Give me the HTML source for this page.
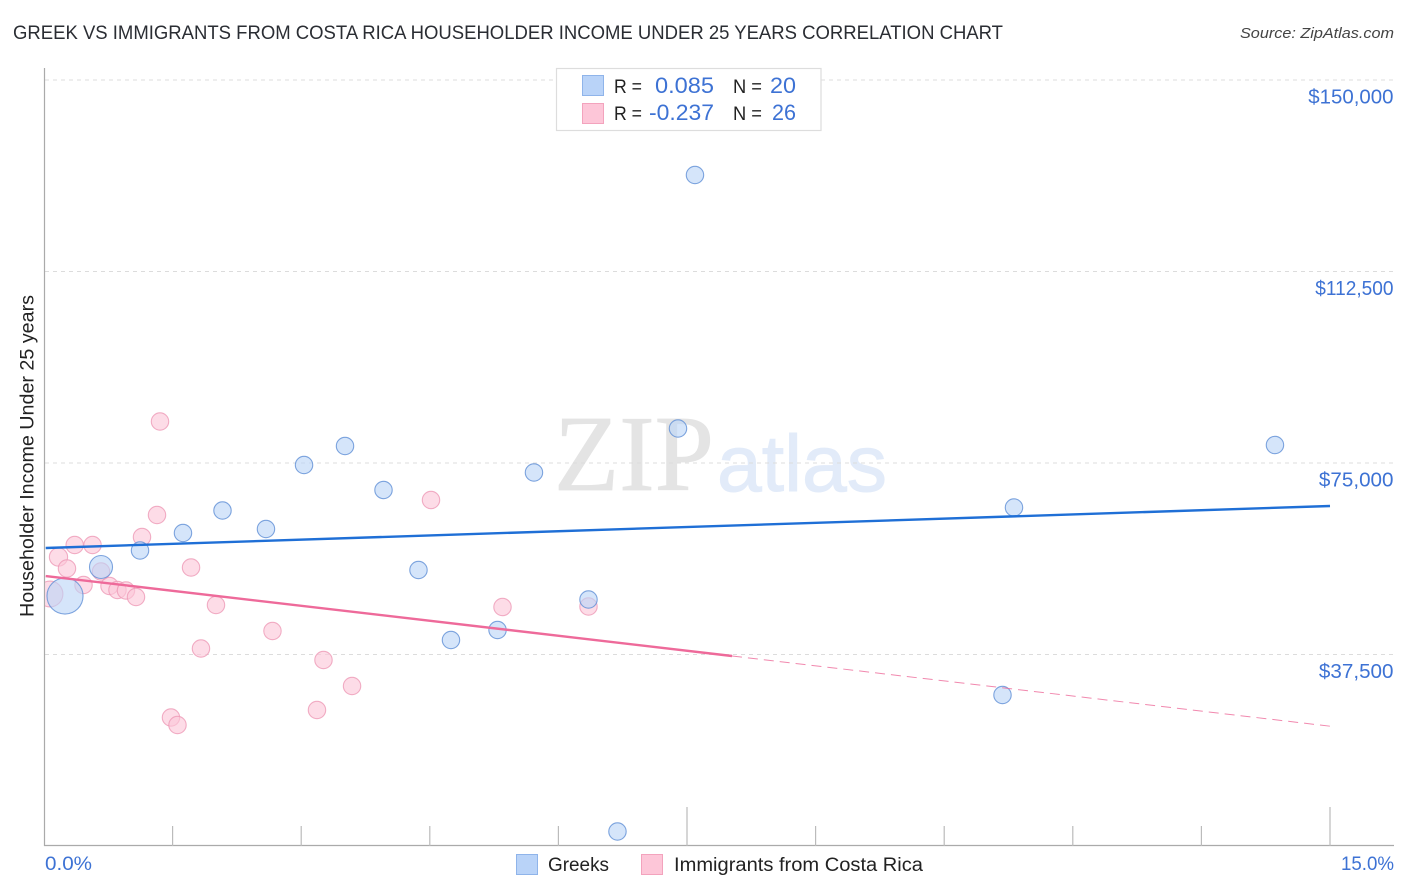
<!DOCTYPE html>
<html lang="en">
<head>
<meta charset="utf-8">
<title>Greek vs Immigrants from Costa Rica Householder Income Under 25 Years Correlation Chart</title>
<style>
html,body{margin:0;padding:0;background:#fff;width:1406px;height:892px;overflow:hidden}
svg{display:block;font-family:"Liberation Sans",sans-serif}
.blue{fill:#3d72d4}
.dark{fill:#222}
</style>
</head>
<body>
<svg id="chart" width="1406" height="892" viewBox="0 0 1406 892" xmlns="http://www.w3.org/2000/svg">
<defs><clipPath id="plot-clip"><rect x="45" y="60" width="1349" height="785"/></clipPath></defs>
<text x="13" y="39" font-size="19.5" fill="#2a2d33" textLength="990" lengthAdjust="spacingAndGlyphs">GREEK VS IMMIGRANTS FROM COSTA RICA HOUSEHOLDER INCOME UNDER 25 YEARS CORRELATION CHART</text>
<text x="1394" y="38" font-size="15" font-style="italic" fill="#444" text-anchor="end" textLength="154" lengthAdjust="spacingAndGlyphs">Source: ZipAtlas.com</text>
<g>
<text x="554" y="490" font-family="'Liberation Serif',serif" font-size="108" fill="#e4e4e4" stroke="#e4e4e4" stroke-width="0.8" textLength="160" lengthAdjust="spacingAndGlyphs">ZIP</text>
<text x="717" y="491" font-size="80" fill="#e2ebf9" stroke="#e2ebf9" stroke-width="1" textLength="170" lengthAdjust="spacingAndGlyphs">atlas</text>
</g>
<g id="grid"></g>
<g id="axes">
<line x1="44.5" y1="68" x2="44.5" y2="846" stroke="#aaa" stroke-width="1.2"/>
<line x1="44" y1="845.5" x2="1394" y2="845.5" stroke="#aaa" stroke-width="1.2"/>
</g>
<g id="x-ticks"></g>
<g id="y-labels"></g>
<g id="points-pink" clip-path="url(#plot-clip)"></g>
<g id="points-blue" clip-path="url(#plot-clip)"></g>
<g id="trends"></g>
<text transform="translate(33.5,456) rotate(-90)" font-size="19" fill="#222" text-anchor="middle" textLength="322" lengthAdjust="spacingAndGlyphs">Householder Income Under 25 years</text>
<text class="blue" x="45" y="870" font-size="19" textLength="47" lengthAdjust="spacingAndGlyphs">0.0%</text>
<text class="blue" x="1394" y="870" font-size="19" text-anchor="end" textLength="53" lengthAdjust="spacingAndGlyphs">15.0%</text>
<g>
<rect x="556.5" y="68.5" width="264.5" height="62" fill="#fff" stroke="#ddd" stroke-width="1.2"/>
<rect x="582.5" y="75.5" width="21" height="20" fill="#b9d3f8" stroke="#8fb4ea"/>
<rect x="582.5" y="103.5" width="21" height="20" fill="#fdc6d8" stroke="#f3a3bd"/>
<text class="dark" x="614" y="93" font-size="19" textLength="28" lengthAdjust="spacingAndGlyphs">R =</text>
<text class="blue" x="714" y="93" font-size="22" text-anchor="end" textLength="59" lengthAdjust="spacingAndGlyphs">0.085</text>
<text class="dark" x="733" y="93" font-size="19" textLength="29" lengthAdjust="spacingAndGlyphs">N =</text>
<text class="blue" x="796" y="93" font-size="22" text-anchor="end" textLength="26" lengthAdjust="spacingAndGlyphs">20</text>
<text class="dark" x="614" y="120" font-size="19" textLength="28" lengthAdjust="spacingAndGlyphs">R =</text>
<text class="blue" x="714" y="120" font-size="22" text-anchor="end" textLength="65" lengthAdjust="spacingAndGlyphs">-0.237</text>
<text class="dark" x="733" y="120" font-size="19" textLength="29" lengthAdjust="spacingAndGlyphs">N =</text>
<text class="blue" x="796" y="120" font-size="22" text-anchor="end" textLength="24" lengthAdjust="spacingAndGlyphs">26</text>
</g>
<g>
<rect x="516.5" y="854.5" width="21" height="20" fill="#b9d3f8" stroke="#8fb4ea"/>
<text class="dark" x="548" y="871" font-size="19" textLength="61" lengthAdjust="spacingAndGlyphs">Greeks</text>
<rect x="641.5" y="854.5" width="21" height="20" fill="#fdc6d8" stroke="#f3a3bd"/>
<text class="dark" x="674" y="871" font-size="19" textLength="249" lengthAdjust="spacingAndGlyphs">Immigrants from Costa Rica</text>
</g>
</svg>
<script>
const yTickValues = [150000, 112500, 75000, 37500];
const yTickLabels = ["$150,000", "$112,500", "$75,000", "$37,500"];
const xTickValues = [0, 1.5, 3, 4.5, 6, 7.5, 9, 10.5, 12, 13.5, 15];
const xMajorTicks = [7.5, 15];

const greekX = [7.593, 7.395, 14.358, 3.511, 3.033, 5.715, 3.960, 2.082, 11.314, 2.589, 1.621, 1.120, 0.665, 4.368, 0.245, 6.351, 5.290, 4.747, 11.180, 6.689];
const greekY = [131395, 81755, 78524, 78328, 74607, 73139, 69712, 65698, 66285, 62075, 61292, 57865, 54634, 54046, 48955, 48270, 42297, 40339, 29569, 2839];
const greekWeight = [1, 1, 1, 1, 1, 1, 1, 1, 1, 1, 1, 1, 1.75, 1, 4.3, 1, 1, 1, 1, 1];

const ricaX = [1.353, 4.514, 1.318, 1.143, 0.566, 0.358, 0.169, 0.268, 1.715, 0.665, 0.461, 0.764, 0.857, 0.956, 1.073, 0.070, 2.006, 5.348, 6.351, 2.665, 1.831, 3.260, 3.593, 3.184, 1.481, 1.557];
const ricaY = [83125, 67754, 64816, 60508, 58942, 58942, 56592, 54340, 54536, 53753, 51109, 50913, 50130, 50032, 48759, 49347, 47193, 46801, 46899, 42101, 38674, 36423, 31331, 26632, 25163, 23694];
const ricaWeight = [1, 1, 1, 1, 1, 1, 1.1, 1, 1, 1, 1, 1, 1, 1, 1, 2.2, 1, 1, 1, 1, 1, 1, 1, 1, 1, 1];

const greekTrendX = [0.02, 15];
const greekTrendY = [58354, 66579];
const ricaTrendX = [0.02, 8.025];
const ricaTrendY = [52871, 37206];
const ricaForecastX = [8.025, 15.03];
const ricaForecastY = [37206, 23400];

const NS = "http://www.w3.org/2000/svg";
const xScale = v => 44 + (v / 15) * 1286;
const yScale = v => 846 - (v / 37500) * 191.5;
const BASE_R = 8.7;

function make(tag, attrs, parent) {
  const el = document.createElementNS(NS, tag);
  for (const k in attrs) el.setAttribute(k, attrs[k]);
  parent.appendChild(el);
  return el;
}

function labelWidth(text) {
  const ones = text.split("1").length - 1;
  return text.length * 10.65 - 7 * Math.max(0, ones - 1);
}

const gridG = document.getElementById("grid");
const yLabelG = document.getElementById("y-labels");
yTickValues.forEach((v, i) => {
  const line = make("line", {x1: 45, x2: 1393, y1: yScale(v), y2: yScale(v), stroke: "#dcdcdc", "stroke-width": 1, "stroke-dasharray": "4 4"}, gridG);
  
  
  const label = make("text", {x: 1393.5, y: yScale(v) + 23.5, "font-size": 20, "text-anchor": "end", class: "blue", textLength: labelWidth(yTickLabels[i]), lengthAdjust: "spacingAndGlyphs"}, yLabelG);
  
  
  label.textContent = yTickLabels[i];
});

const tickG = document.getElementById("x-ticks");
xTickValues.forEach(v => {
  if (v === 0) return;
  const top = xMajorTicks.includes(v) ? 807 : 826;
  const tick = make("line", {x1: xScale(v), x2: xScale(v), y1: top, y2: 846, stroke: "#bbb", "stroke-width": 1.2}, tickG);
  
  
});

function drawPoints(xs, ys, weights, groupId, fill, stroke, name) {
  const g = document.getElementById(groupId);
  xs.forEach((x, i) => {
    const c = make("circle", {cx: xScale(x), cy: yScale(ys[i]), r: BASE_R * Math.sqrt(weights[i]), fill: fill, "fill-opacity": 0.62, stroke: stroke, "stroke-opacity": 0.8, "stroke-width": 1.1}, g);
    
    
  });
}
drawPoints(ricaX, ricaY, ricaWeight, "points-pink", "#fcc6d8", "#ee9ab6", "costa-rica-point");
drawPoints(greekX, greekY, greekWeight, "points-blue", "#bcd5f7", "#5f8fd6", "greek-point");

const trendG = document.getElementById("trends");
const blueTrend = make("line", {x1: xScale(greekTrendX[0]), y1: yScale(greekTrendY[0]), x2: xScale(greekTrendX[1]), y2: yScale(greekTrendY[1]), stroke: "#1f6fd6", "stroke-width": 2.4}, trendG);


const pinkTrend = make("line", {x1: xScale(ricaTrendX[0]), y1: yScale(ricaTrendY[0]), x2: xScale(ricaTrendX[1]), y2: yScale(ricaTrendY[1]), stroke: "#ee6a9a", "stroke-width": 2.4}, trendG);


const pinkForecast = make("line", {x1: xScale(ricaForecastX[0]), y1: yScale(ricaForecastY[0]), x2: xScale(ricaForecastX[1]), y2: yScale(ricaForecastY[1]), stroke: "#ee6a9a", "stroke-width": 1, "stroke-dasharray": "10 6", "stroke-opacity": 0.8}, trendG);


</script>
</body>
</html>
